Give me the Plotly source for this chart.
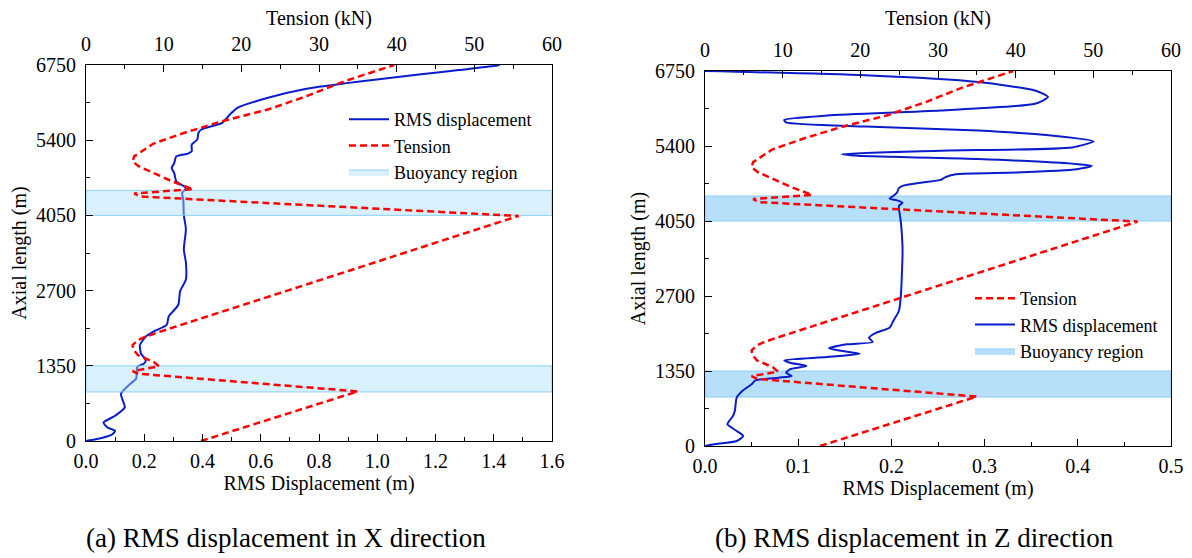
import plotly.graph_objects as go

# ---------------- data ----------------
# Tension along the line (shared by both panels)
tension_len = [0, 890, 1208, 1256, 1341, 1420, 1540, 1640, 1721, 1812, 1870, 1933,
               4040, 4390, 4445, 4520, 4660, 4810, 4930, 5020, 5110, 5340, 5530,
               5740, 5950, 6190, 6460, 6750]
tension_kN = [14.8, 35.0, 6.7, 6.0, 9.4, 8.7, 6.7, 6.1, 6.0, 6.7, 7.6, 8.9,
              55.7, 6.9, 6.2, 13.8, 11.1, 8.7, 6.8, 6.0, 6.2, 8.7, 12.6,
              17.5, 23.4, 28.4, 33.3, 39.7]

# RMS displacement in X direction
rmsx_len = [0, 30, 109, 181, 242, 332, 453, 604, 846, 1027, 1117, 1329, 1389, 1450,
            1570, 1721, 1872, 1963, 2084, 2235, 2446, 2688, 2899, 3201, 3443, 3805,
            4050, 4330, 4450, 4540, 4660, 4810, 4900, 4990, 5110, 5160, 5200, 5320,
            5410, 5530, 5592, 5712, 5862, 5982, 6162, 6324, 6420, 6504, 6582, 6660,
            6732, 6750]
rmsx_m = [0.0, 0.034, 0.087, 0.10, 0.074, 0.06, 0.10, 0.133, 0.12, 0.152, 0.172,
          0.176, 0.199, 0.205, 0.189, 0.185, 0.205, 0.231, 0.277, 0.284, 0.317,
          0.323, 0.343, 0.343, 0.336, 0.343, 0.336, 0.334, 0.33, 0.343, 0.31, 0.303,
          0.294, 0.303, 0.31, 0.35, 0.363, 0.363, 0.382, 0.386, 0.396, 0.468, 0.494,
          0.52, 0.625, 0.757, 0.888, 1.02, 1.15, 1.28, 1.40, 1.42]

# RMS displacement in Z direction
rmsz_len = [0, 30, 90, 180, 270, 390, 450, 540, 630, 870, 990, 1110, 1182, 1230,
            1260, 1320, 1380, 1440, 1500, 1542, 1602, 1662, 1722, 1758, 1830, 1872,
            1950, 2040, 2130, 2250, 2430, 2670, 3510, 3870, 4049, 4169, 4320, 4380,
            4422, 4452, 4500, 4561, 4640, 4682, 4742, 4790, 4832, 4893, 4923, 4983,
            5044, 5104, 5164, 5224, 5255, 5315, 5375, 5484, 5586, 5677, 5749, 5827,
            5870, 5948, 6038, 6160, 6280, 6400, 6551, 6672, 6750]
rmsz_m = [0.0, 0.01, 0.034, 0.041, 0.034, 0.024, 0.026, 0.03, 0.032, 0.034, 0.04,
          0.05, 0.054, 0.079, 0.093, 0.087, 0.091, 0.109, 0.091, 0.085, 0.131, 0.166,
          0.143, 0.133, 0.152, 0.18, 0.176, 0.184, 0.198, 0.202, 0.208, 0.210, 0.212,
          0.211, 0.210, 0.209, 0.208, 0.212, 0.206, 0.198, 0.202, 0.206, 0.208, 0.212,
          0.233, 0.253, 0.257, 0.269, 0.334, 0.399, 0.415, 0.374, 0.293, 0.164, 0.147,
          0.253, 0.394, 0.417, 0.374, 0.293, 0.172, 0.087, 0.085, 0.131, 0.253, 0.354,
          0.368, 0.354, 0.293, 0.172, 0.0]

# Buoyancy regions (axial length ranges, m)
buoy_regions = [(880, 1350), (4050, 4500)]

length_ticks = [0, 1350, 2700, 4050, 5400, 6750]
rmsx_range = [0, 1.6]
rmsz_range = [0, 0.5]
tension_range = [0, 60]

# ---------------- styling ----------------
FONT = "Liberation Serif, Times New Roman, Times, serif"
FS = 20
LFS = 18
BLUE = "#0a1ccc"
RED = "#ff0000"


def band_xy(xmax):
    xs, ys = [], []
    for lo, hi in buoy_regions:
        xs += [0, xmax, xmax, 0, 0, None]
        ys += [lo, lo, hi, hi, lo, None]
    return xs, ys


fig = go.Figure()

# ----- panel (a) -----
fig.add_trace(go.Scatter(x=rmsx_m, y=rmsx_len, xaxis="x", yaxis="y", mode="lines",
                         line=dict(color=BLUE, width=2, shape="spline", smoothing=0.6),
                         name="RMS displacement", legend="legend"))
fig.add_trace(go.Scatter(x=tension_kN, y=tension_len, xaxis="x2", yaxis="y", mode="lines",
                         line=dict(color=RED, width=2.5, dash="7px,4px"),
                         name="Tension", legend="legend"))
bx, by = band_xy(rmsx_range[1])
fig.add_trace(go.Scatter(x=bx, y=by, xaxis="x", yaxis="y", mode="lines", fill="toself",
                         fillcolor="rgba(170,222,250,0.45)",
                         line=dict(color="rgba(120,200,245,0.8)", width=1),
                         name="Buoyancy region", legend="legend", hoverinfo="skip"))

# ----- panel (b) -----
bx, by = band_xy(rmsz_range[1])
fig.add_trace(go.Scatter(x=bx, y=by, xaxis="x3", yaxis="y3", mode="lines", fill="toself",
                         fillcolor="rgb(182,223,249)",
                         line=dict(color="rgb(140,205,245)", width=1),
                         name="Buoyancy region", legend="legend2", legendrank=3,
                         hoverinfo="skip"))
fig.add_trace(go.Scatter(x=tension_kN, y=tension_len, xaxis="x4", yaxis="y3", mode="lines",
                         line=dict(color=RED, width=2.5, dash="7px,4px"),
                         name="Tension", legend="legend2", legendrank=1))
fig.add_trace(go.Scatter(x=rmsz_m, y=rmsz_len, xaxis="x3", yaxis="y3", mode="lines",
                         line=dict(color=BLUE, width=2, shape="spline", smoothing=0.6),
                         name="RMS displacement", legend="legend2", legendrank=2))

tickfont = dict(family=FONT, size=FS, color="black")
titlefont = dict(family=FONT, size=FS, color="black")


def xbottom(domain, rng, dtick, minor, anchor, title):
    return dict(domain=domain, range=rng, anchor=anchor, side="bottom", dtick=dtick,
                tick0=0, tickformat=".1f", ticks="inside", ticklen=7, tickwidth=1,
                tickcolor="black", minor=dict(ticks="inside", ticklen=4, dtick=minor,
                                              tickcolor="black"),
                showline=True, linecolor="black", linewidth=1, showgrid=False,
                zeroline=False, tickfont=tickfont, ticklabelstandoff=2, automargin=False,
                title=dict(text=title, font=titlefont, standoff=0), fixedrange=True)


def xtop(over, anchor, title, standoff):
    return dict(overlaying=over, anchor=anchor, side="top", range=tension_range, dtick=10,
                tick0=0, ticks="inside", ticklen=7, tickwidth=1, tickcolor="black",
                minor=dict(ticks="inside", ticklen=4, dtick=5, tickcolor="black"),
                showline=True, linecolor="black", linewidth=1, showgrid=False,
                zeroline=False, tickfont=tickfont, ticklabelstandoff=5, automargin=False,
                title=dict(text=title, font=titlefont, standoff=standoff), fixedrange=True)


def yleft(domain, anchor, title):
    return dict(domain=domain, anchor=anchor, range=[0, 6750], tickvals=length_ticks,
                ticks="inside", ticklen=7, tickwidth=1, tickcolor="black",
                minor=dict(ticks="inside", ticklen=4, dtick=675, tickcolor="black"),
                showline=True, mirror=True, linecolor="black", linewidth=1,
                showgrid=False, zeroline=False, tickfont=tickfont, ticklabelstandoff=5,
                automargin=False,
                title=dict(text=title, font=titlefont, standoff=4), fixedrange=True)


W, H = 1192, 558
fig.update_layout(
    width=W, height=H, autosize=False,
    margin=dict(l=0, r=0, t=0, b=0),
    paper_bgcolor="white", plot_bgcolor="white",
    font=dict(family=FONT, size=FS, color="black"),
    xaxis=xbottom([86 / W, 552 / W], rmsx_range, 0.2, 0.1, "y", "RMS Displacement (m)"),
    xaxis2=xtop("x", "y", "Tension (kN)", 2),
    yaxis=yleft([1 - 441 / H, 1 - 65 / H], "x", "Axial length (m)"),
    xaxis3=xbottom([705 / W, 1171 / W], rmsz_range, 0.1, 0.05, "y3", "RMS Displacement (m)"),
    xaxis4=xtop("x3", "y3", "Tension (kN)", 8),
    yaxis3=yleft([1 - 446 / H, 1 - 71 / H], "x3", "Axial length (m)"),
    legend=dict(x=344 / W, y=1 - 101 / H, xanchor="left", yanchor="top",
                bgcolor="rgba(0,0,0,0)", font=dict(family=FONT, size=LFS),
                traceorder="normal", itemwidth=40),
    legend2=dict(x=970 / W, y=1 - 280 / H, xanchor="left", yanchor="top",
                 bgcolor="rgba(0,0,0,0)", font=dict(family=FONT, size=LFS),
                 traceorder="normal", itemwidth=40),
    showlegend=True,
    annotations=[
        dict(text="(a) RMS displacement in X direction", x=286 / W, y=1 - 538 / H,
             xref="paper", yref="paper", xanchor="center", yanchor="middle",
             showarrow=False, font=dict(family=FONT, size=27, color="black")),
        dict(text="(b) RMS displacement in Z direction", x=914 / W, y=1 - 538 / H,
             xref="paper", yref="paper", xanchor="center", yanchor="middle",
             showarrow=False, font=dict(family=FONT, size=27, color="black")),
    ],
)

fig.write_html("out.html")
